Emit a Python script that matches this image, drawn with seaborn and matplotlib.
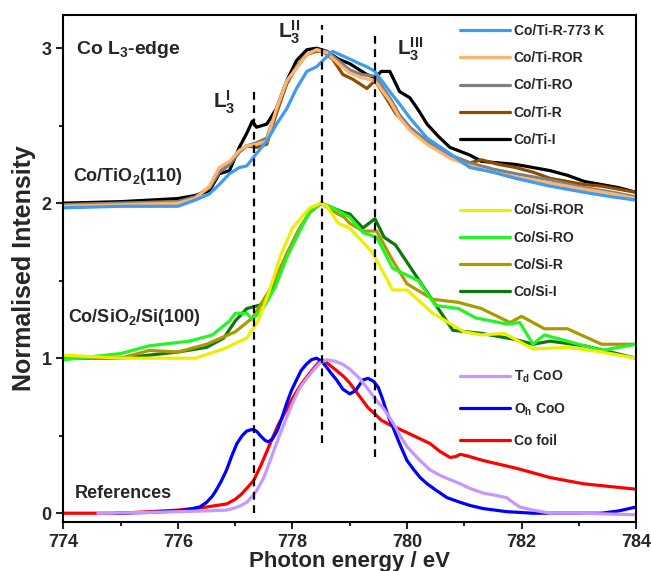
import numpy as np
import pandas as pd
import seaborn as sns
import matplotlib.pyplot as plt

# ---- Co/TiO2(110) spectra (offset +2) ----
ti_i_x = [774, 775, 775.5, 776, 776.3, 776.55, 776.72, 776.9, 777.07, 777.2, 777.3, 777.37, 777.55,
          777.72, 777.9, 778.07, 778.25, 778.42, 778.6, 778.8, 779.0, 779.17, 779.3, 779.44, 779.55,
          779.7, 779.87, 780.05, 780.2, 780.35, 780.55, 780.75, 781.1, 781.3, 781.6, 781.9, 782.2,
          782.5, 782.8, 783.1, 783.4, 783.7, 784]
ti_i_y = [2.00, 2.01, 2.02, 2.03, 2.05, 2.08, 2.19, 2.21, 2.36, 2.45, 2.53, 2.49, 2.51,
          2.61, 2.79, 2.92, 2.99, 3.00, 2.98, 2.93, 2.90, 2.86, 2.83, 2.81, 2.85,
          2.85, 2.72, 2.68, 2.60, 2.51, 2.43, 2.36, 2.31, 2.27, 2.26, 2.25, 2.23,
          2.21, 2.18, 2.14, 2.12, 2.10, 2.07]

ti_ror_x = [774, 775, 776, 776.3, 776.55, 776.72, 776.9, 777.07, 777.2, 777.37, 777.55, 777.72, 777.9,
            778.07, 778.25, 778.42, 778.6, 778.8, 779.0, 779.2, 779.44, 779.7, 779.87, 780.05, 780.35,
            780.75, 781.1, 781.5, 781.9, 782.5, 783.1, 783.6, 784]
ti_ror_y = [1.98, 1.99, 2.00, 2.03, 2.11, 2.23, 2.27, 2.34, 2.37, 2.38, 2.40, 2.61, 2.79,
            2.87, 2.96, 2.99, 2.97, 2.90, 2.84, 2.81, 2.79, 2.66, 2.55, 2.47, 2.38,
            2.29, 2.24, 2.20, 2.17, 2.13, 2.09, 2.06, 2.03]
ti_ro_y = [1.99, 2.00, 2.01, 2.04, 2.10, 2.20, 2.25, 2.33, 2.37, 2.39, 2.42, 2.60, 2.78,
           2.88, 2.96, 2.99, 2.98, 2.92, 2.86, 2.83, 2.82, 2.68, 2.57, 2.49, 2.40,
           2.31, 2.26, 2.22, 2.19, 2.15, 2.10, 2.07, 2.04]

ti_r_x = [774, 775, 776, 776.3, 776.55, 776.72, 776.9, 777.07, 777.2, 777.37, 777.55, 777.72, 777.9,
          778.07, 778.25, 778.42, 778.53, 778.7, 778.88, 779.05, 779.3, 779.44, 779.6, 779.8, 780.05,
          780.35, 780.75, 781.1, 781.3, 781.6, 781.9, 782.2, 782.5, 782.8, 783.1, 783.4, 783.7, 784]
ti_r_y = [1.99, 2.00, 2.01, 2.04, 2.10, 2.20, 2.25, 2.33, 2.37, 2.36, 2.38, 2.58, 2.77,
          2.88, 2.96, 2.98, 2.98, 2.93, 2.83, 2.80, 2.74, 2.79, 2.70, 2.58, 2.48,
          2.40, 2.31, 2.26, 2.28, 2.25, 2.23, 2.20, 2.16, 2.14, 2.12, 2.11, 2.09, 2.07]

ti_773_x = [774, 775, 776, 776.3, 776.55, 776.72, 776.9, 777.07, 777.2, 777.37, 777.55, 777.72, 777.9,
            778.07, 778.25, 778.42, 778.53, 778.7, 778.88, 779.0, 779.17, 779.3, 779.44, 779.7, 779.87,
            780.05, 780.35, 780.75, 781.1, 781.5, 781.9, 782.5, 783.1, 783.6, 784]
ti_773_y = [1.97, 1.98, 1.98, 2.02, 2.06, 2.12, 2.19, 2.23, 2.24, 2.32, 2.40, 2.51, 2.61,
            2.74, 2.85, 2.88, 2.92, 2.98, 2.95, 2.93, 2.90, 2.88, 2.85, 2.72, 2.64,
            2.55, 2.42, 2.32, 2.23, 2.20, 2.16, 2.11, 2.07, 2.04, 2.02]

# ---- Co/SiO2/Si(100) spectra (offset +1) ----
si_ror_x = [774, 775, 776, 776.3, 776.8, 777.2, 777.4, 777.6, 777.8, 778.0, 778.3, 778.5, 778.6,
            778.8, 779.0, 779.4, 779.75, 780.0, 780.45, 781.0, 781.3, 781.7, 781.9, 782.2, 782.8,
            783.4, 784]
si_ror_y = [1.02, 1.00, 1.00, 1.00, 1.06, 1.13, 1.24, 1.44, 1.67, 1.84, 1.97, 2.00, 1.98,
            1.87, 1.84, 1.68, 1.44, 1.44, 1.29, 1.17, 1.15, 1.16, 1.12, 1.06, 1.07,
            1.04, 1.00]

si_ro_x = [774, 775, 775.5, 776.2, 776.6, 776.9, 777.0, 777.2, 777.3, 777.5, 777.7, 777.9, 778.1,
           778.3, 778.5, 778.7, 778.9, 779.0, 779.23, 779.47, 779.75, 780.2, 780.5, 780.9, 781.2,
           781.75, 781.97, 782.2, 782.4, 782.8, 783.4, 784]
si_ro_y = [0.99, 1.03, 1.08, 1.11, 1.15, 1.24, 1.29, 1.29, 1.25, 1.33, 1.46, 1.65, 1.80,
           1.95, 2.00, 1.97, 1.93, 1.91, 1.81, 1.78, 1.58, 1.50, 1.34, 1.32, 1.26,
           1.22, 1.23, 1.09, 1.15, 1.11, 1.05, 1.09]

si_r_x = [774, 775, 775.5, 776, 776.5, 777.0, 777.3, 777.6, 777.9, 778.1, 778.3, 778.5, 778.7,
          778.9, 779.0, 779.23, 779.47, 779.75, 780.0, 780.45, 780.9, 781.3, 781.8, 782.0, 782.4,
          782.8, 783.4, 784]
si_r_y = [1.00, 1.00, 1.05, 1.04, 1.09, 1.17, 1.26, 1.44, 1.67, 1.82, 1.94, 2.00, 1.95,
          1.91, 1.87, 1.82, 1.82, 1.63, 1.48, 1.38, 1.36, 1.32, 1.23, 1.27, 1.19,
          1.19, 1.09, 1.09]

si_i_x = [774, 775, 775.5, 776, 776.5, 776.8, 777.0, 777.2, 777.4, 777.5, 777.7, 777.9, 778.1,
          778.3, 778.5, 778.7, 778.9, 779.0, 779.23, 779.44, 779.6, 779.8, 780.25, 780.6, 780.8,
          781.3, 781.9, 782.2, 782.5, 783.1, 784]
si_i_y = [1.00, 1.00, 1.02, 1.04, 1.07, 1.13, 1.24, 1.32, 1.34, 1.35, 1.50, 1.67, 1.82,
          1.94, 2.00, 1.97, 1.94, 1.93, 1.84, 1.90, 1.78, 1.73, 1.48, 1.29, 1.18,
          1.16, 1.12, 1.09, 1.11, 1.08, 1.00]

# ---- reference spectra ----
foil_x = [774, 775, 775.5, 776, 776.5, 776.85, 777.0, 777.1, 777.2, 777.32, 777.45, 777.61, 777.75,
          777.9, 778.0, 778.13, 778.25, 778.36, 778.45, 778.51, 778.6, 778.77, 778.9, 779.0, 779.1,
          779.2, 779.32, 779.44, 779.55, 779.7, 780.0, 780.4, 780.57, 780.75, 780.85, 780.93, 781.05,
          781.33, 781.91, 782.5, 783.08, 783.6, 784]
foil_y = [0.0, 0.0, 0.01, 0.02, 0.04, 0.06, 0.09, 0.12, 0.16, 0.21, 0.31, 0.45, 0.57,
          0.67, 0.74, 0.82, 0.88, 0.93, 0.97, 0.99, 0.97, 0.92, 0.88, 0.84, 0.79,
          0.74, 0.68, 0.64, 0.60, 0.57, 0.52, 0.45, 0.40, 0.36, 0.365, 0.38, 0.37,
          0.34, 0.29, 0.23, 0.19, 0.17, 0.155]

oh_x = [774.9, 775.5, 776.0, 776.2, 776.38, 776.5, 776.6, 776.67, 776.76, 776.85, 776.94, 777.03,
        777.12, 777.2, 777.29, 777.37, 777.44, 777.52, 777.58, 777.65, 777.73, 777.81, 777.9, 777.98,
        778.07, 778.15, 778.24, 778.33, 778.42, 778.51, 778.6, 778.68, 778.77, 778.88, 779.0, 779.1,
        779.23, 779.32, 779.42, 779.5, 779.57, 779.64, 779.7, 779.76, 779.88, 780.0, 780.12, 780.23,
        780.35, 780.5, 780.7, 780.93, 781.1, 781.33, 781.74, 782.2, 782.5, 783.0, 783.4, 783.7, 784]
oh_y = [0.0, 0.005, 0.015, 0.025, 0.04, 0.07, 0.11, 0.15, 0.21, 0.28, 0.37, 0.45,
        0.50, 0.53, 0.54, 0.53, 0.50, 0.47, 0.46, 0.48, 0.53, 0.61, 0.71, 0.79,
        0.86, 0.92, 0.96, 0.99, 1.00, 0.98, 0.94, 0.90, 0.86, 0.80, 0.77, 0.79,
        0.86, 0.87, 0.85, 0.81, 0.74, 0.66, 0.60, 0.55, 0.44, 0.34, 0.28, 0.23,
        0.19, 0.15, 0.10, 0.07, 0.05, 0.03, 0.01, 0.0, 0.0, 0.0, 0.0, 0.015, 0.04]

td_x = [774.6, 775.5, 776.0, 776.5, 776.85, 777.0, 777.1, 777.2, 777.3, 777.38, 777.5, 777.61,
        777.75, 777.9, 778.0, 778.13, 778.25, 778.36, 778.48, 778.6, 778.75, 778.88, 779.0, 779.17,
        779.3, 779.44, 779.6, 779.76, 779.88, 780.0, 780.2, 780.4, 780.6, 780.93, 781.1, 781.33,
        781.55, 781.74, 781.85, 781.97, 782.2, 782.5, 783.0, 783.5, 784]
td_y = [0.0, 0.005, 0.01, 0.015, 0.02, 0.035, 0.05, 0.07, 0.11, 0.15, 0.23, 0.34,
        0.48, 0.62, 0.71, 0.81, 0.87, 0.92, 0.97, 0.99, 0.98, 0.96, 0.93, 0.87,
        0.81, 0.74, 0.67, 0.58, 0.50, 0.43, 0.35, 0.28, 0.24, 0.19, 0.16, 0.13,
        0.115, 0.10, 0.07, 0.04, 0.02, 0.0, 0.0, -0.005, -0.01]

ti_labels = ['Co/Ti-R-773 K', 'Co/Ti-ROR', 'Co/Ti-RO', 'Co/Ti-R', 'Co/Ti-I']
ti_colors = ['#3d9bf2', '#ffb46e', '#808080', '#8f4b00', '#000000']
si_labels = ['Co/Si-ROR', 'Co/Si-RO', 'Co/Si-R', 'Co/Si-I']
si_colors = ['#eeee00', '#22f522', '#aa9a00', '#0a780a']
ref_labels = [r'T$_d$ CoO', r'O$_h$ CoO', 'Co foil']
ref_colors = ['#c896ff', '#0000ff', '#ff0000']

peak_pos = [777.32, 778.51, 779.44]
peak_top = [2.74, 3.15, 3.10]
peak_bottom = [0.0, 0.45, 0.36]
peak_names = [r'L$_3^{I}$', r'L$_3^{II}$', r'L$_3^{III}$']

sns.set_style('ticks')
plt.rcParams['font.family'] = ['Liberation Sans', 'DejaVu Sans']
plt.rcParams['font.weight'] = 'bold'
plt.rcParams['mathtext.fontset'] = 'custom'
plt.rcParams['mathtext.rm'] = 'Liberation Sans:bold'
plt.rcParams['mathtext.it'] = 'Liberation Sans:bold'
plt.rcParams['mathtext.bf'] = 'Liberation Sans:bold'
plt.rcParams['mathtext.default'] = 'bf'

fig, ax = plt.subplots(figsize=(6.51, 5.71), dpi=100)
fig.subplots_adjust(left=0.0975, right=0.977, bottom=0.086, top=0.974)

lw = 2.3
series = {
    'Co/Ti-I': (ti_i_x, ti_i_y), 'Co/Ti-R': (ti_r_x, ti_r_y), 'Co/Ti-RO': (ti_ror_x, ti_ro_y),
    'Co/Ti-ROR': (ti_ror_x, ti_ror_y), 'Co/Ti-R-773 K': (ti_773_x, ti_773_y),
    'Co/Si-I': (si_i_x, si_i_y), 'Co/Si-R': (si_r_x, si_r_y), 'Co/Si-RO': (si_ro_x, si_ro_y),
    'Co/Si-ROR': (si_ror_x, si_ror_y),
    'Co foil': (foil_x, foil_y), r'O$_h$ CoO': (oh_x, oh_y), r'T$_d$ CoO': (td_x, td_y),
}
colors = dict(zip(ti_labels + si_labels + ref_labels, ti_colors + si_colors + ref_colors))

handles = {}
for name, (xs, ys) in series.items():
    df = pd.DataFrame({'x': xs, 'y': ys})
    sns.lineplot(data=df, x='x', y='y', sort=False, color=colors[name], lw=lw, ax=ax)
    handles[name] = ax.lines[-1]
    handles[name].set_solid_joinstyle('round')

ax.vlines(peak_pos, peak_bottom, peak_top, colors='black', lw=1.6, linestyles=(0, (3.5, 2.5)))

ax.set_xlim(774, 784)
ax.set_ylim(-0.056, 3.215)
ax.set_xticks([774, 776, 778, 780, 782, 784])
ax.set_xticks([775, 777, 779, 781, 783], minor=True)
ax.set_yticks([0, 1, 2, 3])
ax.set_yticks([0.5, 1.5, 2.5], minor=True)
ax.tick_params(which='major', length=5, width=1.5, labelsize=13, direction='out')
ax.tick_params(which='minor', length=3, width=1.5, direction='out')
for s in ax.spines.values():
    s.set_linewidth(1.5)
    s.set_color('black')
ax.set_xlabel('Photon energy / eV', fontsize=16, fontweight='bold', labelpad=0)
ax.set_ylabel('Normalised Intensity', fontsize=18, fontweight='bold', labelpad=4)

ax.text(774.22, 2.99, r'Co L$_3$-edge', fontsize=14, va='center')
ax.text(774.17, 2.17, r'Co/TiO$_2$(110)', fontsize=13, va='center')
ax.text(774.08, 1.26, r'Co/SiO$_2$/Si(100)', fontsize=13, va='center')
ax.text(774.2, 0.13, 'References', fontsize=13, va='center')
label_pos = [(776.61, 2.65), (777.75, 3.10), (779.83, 2.99)]
for name, (lx, ly) in zip(peak_names, label_pos):
    ax.text(lx, ly, name, fontsize=15, va='center')

leg_kw = dict(frameon=False, fontsize=10, handlelength=3.6, handletextpad=0.3,
              labelspacing=0.95, borderpad=0, borderaxespad=0, loc='upper left')
leg1 = ax.legend([handles[n] for n in ti_labels], ti_labels, bbox_to_anchor=(0.692, 0.982), **leg_kw)
ax.add_artist(leg1)
leg2 = ax.legend([handles[n] for n in si_labels], si_labels, bbox_to_anchor=(0.692, 0.628), **leg_kw)
ax.add_artist(leg2)
leg3_kw = dict(leg_kw, labelspacing=1.15)
ax.legend([handles[n] for n in ref_labels], ref_labels, bbox_to_anchor=(0.692, 0.302), **leg3_kw)

fig.savefig('out.png', dpi=100)
